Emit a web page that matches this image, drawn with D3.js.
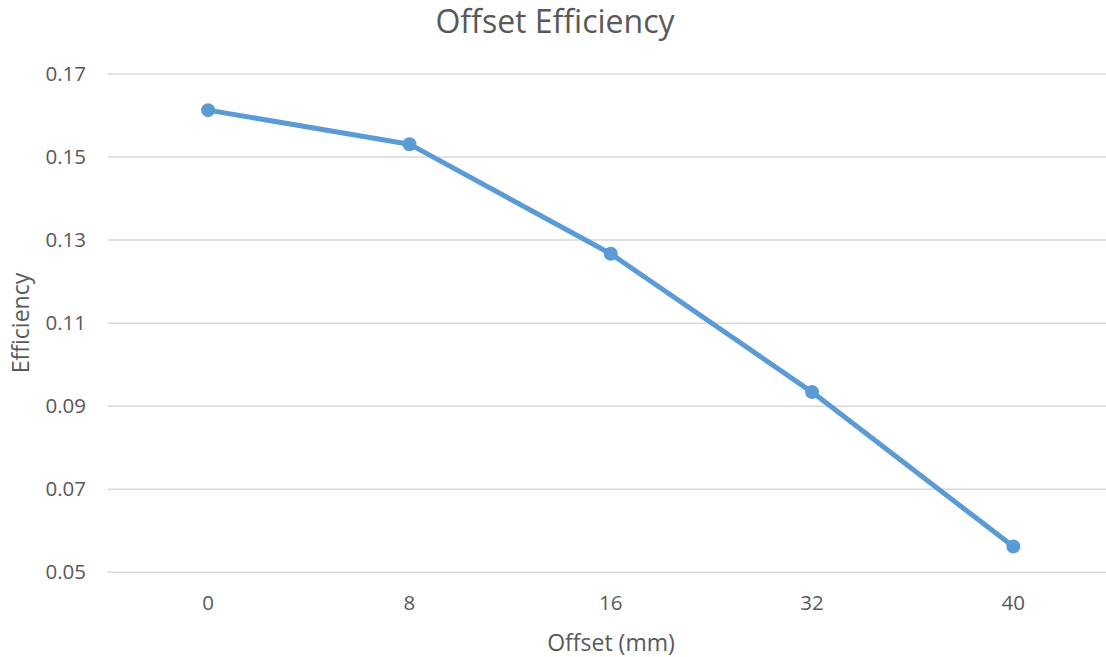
<!DOCTYPE html>
<html><head><meta charset="utf-8">
<script src="https://cdn.jsdelivr.net/npm/d3@7"></script>
<style>body{margin:0;background:#fff}svg{display:block}text{font-family:"Open Sans","Noto Sans",sans-serif;fill:#595959}</style>
</head><body><div id="chart"></div>
<script>
const categories = ["0", "8", "16", "32", "40"];
const efficiency = [0.1613, 0.1531, 0.1267, 0.0934, 0.0562];
const yTicks = [0.05, 0.07, 0.09, 0.11, 0.13, 0.15, 0.17];

(function () {
const W = 1106, H = 657;
const svg = d3.select("#chart").append("svg").attr("width", W).attr("height", H);
const pLeft = 107.5, pRight = 1114, pTop = 74, pBottom = 572.3;
const x = d3.scalePoint().domain(categories).range([pLeft, pRight]).padding(0.5);
const y = d3.scaleLinear().domain([0.05, 0.17]).range([pBottom, pTop]);

svg.append("g").selectAll("line").data(yTicks).join("line")
  .attr("x1", pLeft).attr("x2", pRight).attr("y1", d => y(d)).attr("y2", d => y(d))
  .attr("stroke", "#d9d9d9").attr("stroke-width", 1.5);

svg.append("g").selectAll("text").data(yTicks).join("text")
  .attr("x", 86).attr("y", d => y(d)).attr("dy", "0.35em").attr("text-anchor", "end")
  .attr("font-size", 20.5).text(d => d3.format(".2f")(d));

svg.append("g").selectAll("text").data(categories).join("text")
  .attr("x", d => x(d)).attr("y", 603).attr("dy", "0.35em").attr("text-anchor", "middle")
  .attr("font-size", 20.5).text(d => d);

const line = d3.line().x((d, i) => x(categories[i])).y(d => y(d));
svg.append("path").datum(efficiency).attr("d", line).attr("fill", "none")
  .attr("stroke", "#5b9bd5").attr("stroke-width", 5).attr("stroke-linejoin", "round").attr("stroke-linecap", "round");
svg.append("g").selectAll("circle").data(efficiency).join("circle")
  .attr("cx", (d, i) => x(categories[i])).attr("cy", d => y(d)).attr("r", 7).attr("fill", "#5b9bd5");

svg.append("text").attr("x", 555).attr("y", 22).attr("dy", "0.35em").attr("text-anchor", "middle")
  .attr("font-size", 32).text("Offset Efficiency");
svg.append("text").attr("x", 611).attr("y", 643).attr("dy", "0.35em").attr("text-anchor", "middle")
  .attr("font-size", 23).text("Offset (mm)");
svg.append("text").attr("transform", "translate(21,323) rotate(-90)").attr("dy", "0.35em").attr("text-anchor", "middle")
  .attr("font-size", 23).text("Efficiency");
})();
</script></body></html>
